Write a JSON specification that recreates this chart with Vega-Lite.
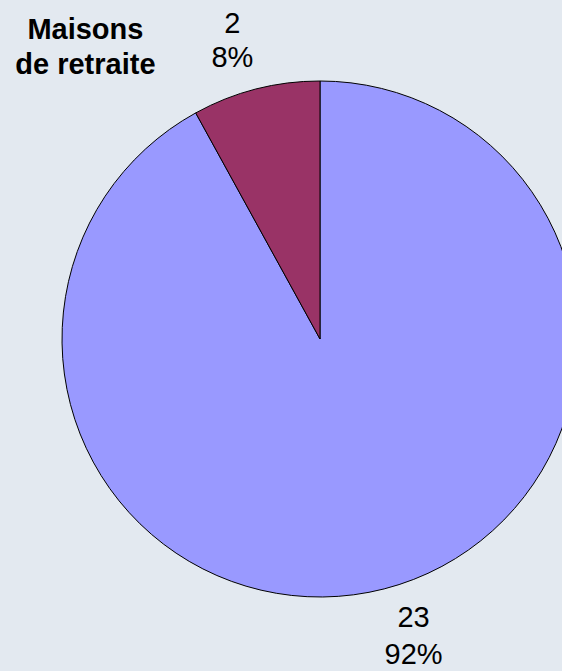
{
  "$schema": "https://vega.github.io/schema/vega-lite/v6.json",
  "width": 484,
  "height": 516,
  "autosize": {"type": "none"},
  "padding": {"left": 78, "top": 81, "right": 0, "bottom": 74},
  "background": "#E3E9F0",
  "config": {"view": {"stroke": null}},
  "data": {
    "values": [
      {"category": "Autres", "count": 23, "pct": "92%", "order": 1},
      {"category": "Maisons\nde retraite", "count": 2, "pct": "8%", "order": 2}
    ]
  },
  "transform": [
    {"stack": "count", "groupby": [], "sort": [{"field": "order", "order": "ascending"}], "as": ["start", "end"]},
    {"calculate": "(datum.start + datum.end) / 2", "as": "mid"},
    {"calculate": "datum.count + '\\n' + datum.pct", "as": "label"}
  ],
  "layer": [
    {
      "mark": {"type": "arc", "outerRadius": 258, "stroke": "#000000", "strokeWidth": 1},
      "encoding": {
        "theta": {"field": "start", "type": "quantitative", "stack": null, "scale": {"domain": [0, 25]}},
        "theta2": {"field": "end"},
        "color": {
          "field": "category",
          "type": "nominal",
          "scale": {"domain": ["Autres", "Maisons\nde retraite"], "range": ["#9999FF", "#993366"]},
          "legend": null
        }
      }
    },
    {
      "transform": [{"filter": "datum.order == 1"}],
      "mark": {"type": "text", "radius": 308, "dx": 17, "dy": -19, "fontSize": 29, "font": "Liberation Sans", "lineBreak": "\n", "lineHeight": 37, "align": "center", "baseline": "middle", "color": "#000000"},
      "encoding": {
        "theta": {"field": "mid", "type": "quantitative", "stack": null},
        "text": {"field": "label", "type": "nominal"}
      }
    },
    {
      "transform": [{"filter": "datum.order == 2"}],
      "mark": {"type": "text", "radius": 308, "dx": -11, "dy": -17, "fontSize": 29, "font": "Liberation Sans", "lineBreak": "\n", "lineHeight": 34, "align": "center", "baseline": "middle", "color": "#000000"},
      "encoding": {
        "theta": {"field": "mid", "type": "quantitative", "stack": null},
        "text": {"field": "label", "type": "nominal"}
      }
    },
    {
      "transform": [{"filter": "datum.order == 2"}],
      "mark": {"type": "text", "radius": 308, "dx": -158, "dy": -11, "fontSize": 29, "fontWeight": "bold", "font": "Liberation Sans", "lineBreak": "\n", "lineHeight": 35, "align": "center", "baseline": "middle", "color": "#000000"},
      "encoding": {
        "theta": {"field": "mid", "type": "quantitative", "stack": null},
        "text": {"field": "category", "type": "nominal"}
      }
    }
  ]
}
